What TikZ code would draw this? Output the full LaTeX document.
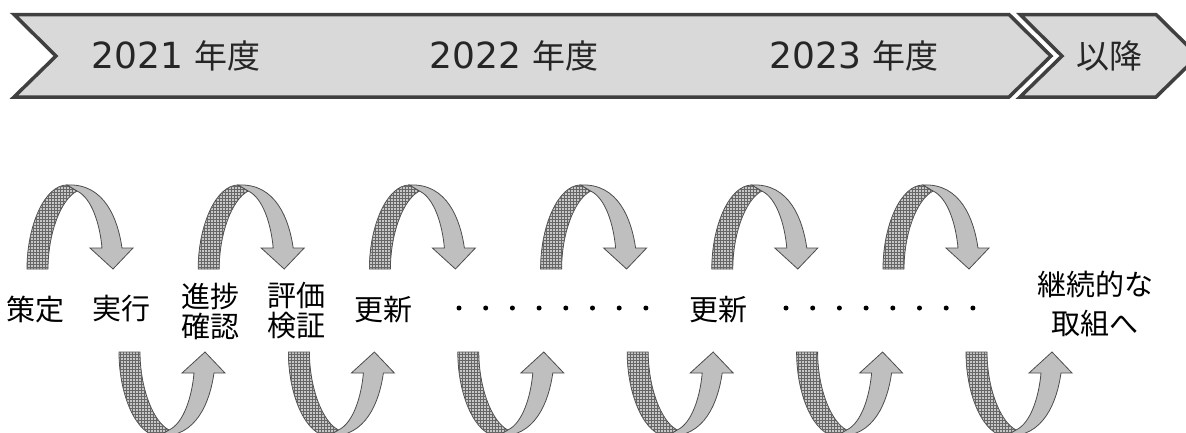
\documentclass[tikz,border=0pt]{standalone}
\usepackage{fontspec}
\setmainfont{DejaVu Sans}
\newfontfamily\jpfont{Noto Sans CJK JP}
\usetikzlibrary{patterns}
\newcommand\nendo[1]{#1 {\jpfont\fontsize{33}{36}\selectfont 年度}}
\tikzset{
  yearbar/.style={draw=black!75, line width=3.5pt, fill=black!15, line join=miter},
  yearlabel/.style={text=black!85, font=\fontsize{36}{40}\selectfont},
  steplabel/.style={align=center, font=\jpfont\fontsize{29}{30}\selectfont},
  backband/.style={draw=black!70, line width=0.8pt, fill=black!22,
    postaction={pattern=grid, pattern color=black!60}},
  frontband/.style={draw=black!70, line width=0.8pt, fill=black!25},
  cyclearrow/.pic={
    \draw[backband] (0,0) .. controls (0,-44) and (18,-84) .. (40,-84) -- (50,-78)
      .. controls (33,-69) and (21,-34) .. (21,0) -- cycle;
    \draw[frontband] (40,-84) .. controls (78,-86) and (91,-49) .. (95,-21) -- (106,-21)
      -- (86,0) -- (63,-21) -- (75,-21) .. controls (73,-44) and (65,-71) .. (50,-78) -- cycle;
  }
}
\begin{document}
\begin{tikzpicture}[x=1pt,y=-1pt]
\useasboundingbox (0,0) rectangle (1186,432);
\clip (0,0) rectangle (1186,432);
% years
\draw[yearbar] (14,14.5) -- (1009,14.5) -- (1051,56) -- (1009,97) -- (14,97) -- (56,56) -- cycle;
\draw[yearbar] (1020,14.5) -- (1156,14.5) -- (1198,56) -- (1156,97) -- (1020,97) -- (1062,56) -- cycle;
\node[yearlabel] (y21) at (176,56) {\nendo{2021}};
\node[yearlabel] (y22) at (514,56) {\nendo{2022}};
\node[yearlabel] (y23) at (854,56) {\nendo{2023}};
\node[yearlabel, font=\jpfont\fontsize{33}{36}\selectfont] (later) at (1109,56) {以降};
% loops
\foreach \i in {0,...,5} {
  \pic at (27+171.2*\i,269) {cyclearrow};
  \pic[yscale=-1] at (119+169.4*\i,352) {cyclearrow};
}
% steps
\node[steplabel] (plan) at (35,309) {策定};
\node[steplabel] (act) at (121,309) {実行};
\node[steplabel] (check) at (210,311) {進捗\\確認};
\node[steplabel] (eval) at (296,311) {評価\\検証};
\node[steplabel] (upd1) at (383,310) {更新};
\node[steplabel] (upd2) at (718,310) {更新};
\node[steplabel, font=\jpfont\fontsize{29}{39}\selectfont] (cont) at (1095,304) {継続的な\\取組へ};
\foreach \x in {0,...,7} {
  \fill (459+26.7*\x,308) circle (2.5);
  \fill (786+26.7*\x,308) circle (2.5);
}
\end{tikzpicture}
\end{document}
